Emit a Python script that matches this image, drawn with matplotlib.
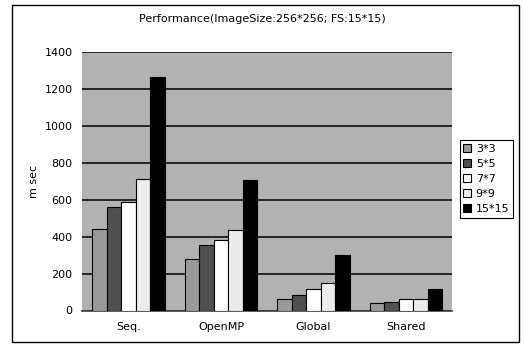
import numpy as np
import matplotlib
matplotlib.use("Agg")
import matplotlib.pyplot as plt
from matplotlib.patches import Rectangle

# data
categories = ["Seq.", "OpenMP", "Global", "Shared"]
series_names = ["3*3", "5*5", "7*7", "9*9", "15*15"]
vals_3x3 = [440, 280, 65, 40]
vals_5x5 = [560, 355, 85, 45]
vals_7x7 = [590, 380, 115, 60]
vals_9x9 = [715, 435, 150, 65]
vals_15x15 = [1265, 710, 300, 115]
yticks = [0, 200, 400, 600, 800, 1000, 1200, 1400]

all_vals = [vals_3x3, vals_5x5, vals_7x7, vals_9x9, vals_15x15]
colors = ["#9a9a9a", "#505050", "#ffffff", "#ececec", "#000000"]

fig = plt.figure(figsize=(5.24, 3.45), dpi=100)
fig.patch.set_facecolor("white")
# outer frame
fig.add_artist(Rectangle((0.023, 0.008), 0.968, 0.977, transform=fig.transFigure,
                         fill=False, edgecolor="black", lw=1.0))

ax = fig.add_axes([0.157, 0.10, 0.706, 0.748])
ax.set_facecolor("#b2b2b2")

x = np.arange(len(categories))
bw = 0.156
for i, (vals, c) in enumerate(zip(all_vals, colors)):
    off = (i - 2) * bw
    ax.bar(x + off, vals, bw, color=c, edgecolor="black", linewidth=0.8,
           label=series_names[i], zorder=3)

ax.set_ylim(0, 1400)
ax.set_xlim(-0.5, 3.5)
ax.set_yticks(yticks)
ax.set_xticks(x)
ax.set_xticklabels(categories, fontsize=8)
ax.tick_params(axis="y", labelsize=8, length=0, pad=7)
ax.tick_params(axis="x", length=0, pad=8)
ax.yaxis.grid(True, color="black", lw=1.1, zorder=1)
ax.set_axisbelow(True)
for s in ["top", "right", "left"]:
    ax.spines[s].set_visible(False)
ax.spines["bottom"].set_color("#404040")
ax.spines["bottom"].set_linewidth(1.2)

ax.set_ylabel("m sec", fontsize=8, labelpad=4)
fig.text(0.5, 0.945, "Performance(ImageSize:256*256; FS:15*15)", ha="center",
         va="center", fontsize=8)

leg = ax.legend(loc="center left", bbox_to_anchor=(1.02, 0.51), fontsize=8,
                frameon=True, fancybox=False, edgecolor="black", framealpha=1,
                handlelength=0.7, handleheight=0.7, handletextpad=0.4,
                borderpad=0.35, labelspacing=0.45, borderaxespad=0)
leg.get_frame().set_linewidth(0.8)

fig.savefig("out.png", dpi=100)
